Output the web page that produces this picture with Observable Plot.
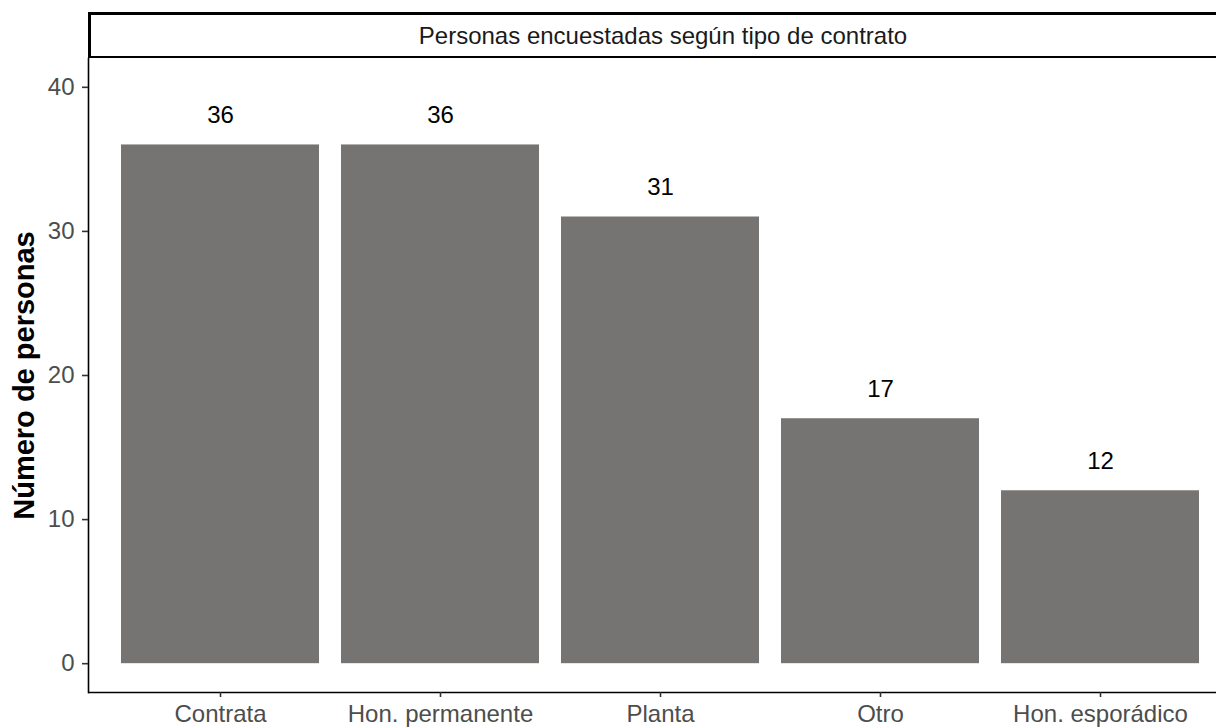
<!DOCTYPE html>
<html>
<head>
<meta charset="utf-8">
<script src="https://cdn.jsdelivr.net/npm/d3@7"></script>
<script src="https://cdn.jsdelivr.net/npm/@observablehq/plot@0.6"></script>
<style>
  html, body { margin: 0; padding: 0; background: white; }
  #wrap { width: 1216px; height: 727px; overflow: hidden; position: relative; font-family: "Liberation Sans", Arial, sans-serif; }
  #strip {
    position: absolute; left: 88px; top: 12px; width: 1160px; height: 47px;
    box-sizing: border-box; border: 3px solid black; background: white;
    font-size: 24px; color: #1a1a1a; line-height: 41px;
  }
  #strip span { position: absolute; left: 0; width: 1144px; text-align: center; }
  #chart { position: absolute; left: 0; top: 58px; }
</style>
</head>
<body>
<div id="wrap">
  <div id="strip"><span id="stripText"></span></div>
  <div id="chart"></div>
</div>
<script>
const categories = ["Contrata", "Hon. permanente", "Planta", "Otro", "Hon. esporádico"];
const counts = [36, 36, 31, 17, 12];
const yTicks = [0, 10, 20, 30, 40];
const stripTitle = "Personas encuestadas según tipo de contrato";
const yTitle = "Número de personas";

const data = categories.map((c, i) => ({cat: c, n: counts[i]}));

document.getElementById("stripText").textContent = stripTitle;

const chart = Plot.plot({
  width: 1216,
  height: 669,
  marginLeft: 88,
  marginRight: 0,
  marginTop: 0,
  marginBottom: 35,
  style: {fontFamily: "'Liberation Sans', Arial, sans-serif", background: "white", overflow: "visible"},
  x: {domain: categories, range: [88, 1232], paddingInner: 0.1, paddingOuter: 0.15, label: null},
  y: {domain: [-2, 42], label: null},
  marks: [
    Plot.barY(data, {x: "cat", y: "n", fill: "#767472"}),
    Plot.text(data, {x: "cat", y: "n", text: d => String(d.n), dy: -22, lineAnchor: "bottom", fontSize: 24, fill: "black"}),
    Plot.ruleY([-2], {stroke: "black", strokeWidth: 1.6}),
    Plot.frame({anchor: "left", stroke: "black", strokeWidth: 1.6}),
    Plot.axisY(yTicks, {tickSize: 6, tickPadding: 8, fontSize: 24, fill: "#4d4d4d", stroke: "#333333", strokeWidth: 1.6, label: null}),
    Plot.axisX({tickSize: 5, tickPadding: 7, fontSize: 24, fill: "#4d4d4d", stroke: "#333333", strokeWidth: 1.6, label: null}),
    Plot.text([yTitle], {frameAnchor: "left", textAnchor: "middle", dx: -64, rotate: -90, fontSize: 29, fontWeight: "bold", fill: "black", text: d => d})
  ]
});
document.getElementById("chart").appendChild(chart);
</script>
</body>
</html>
